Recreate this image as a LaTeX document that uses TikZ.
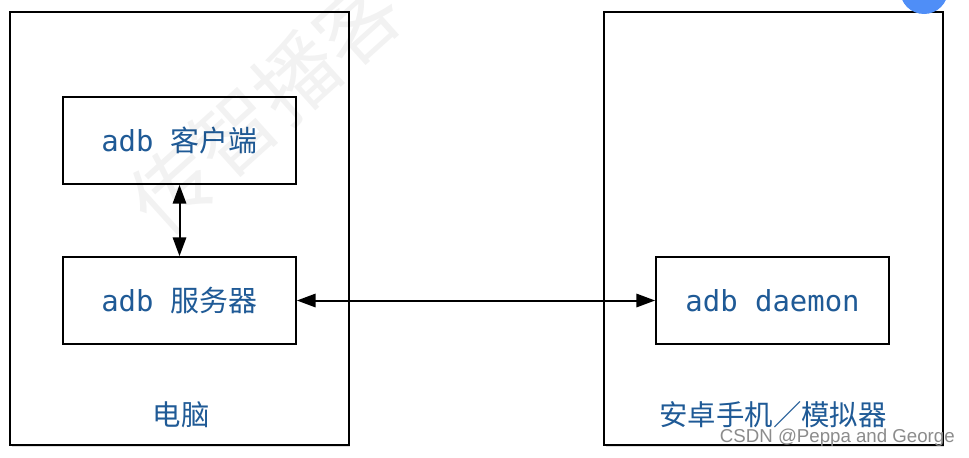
\documentclass[tikz,border=0pt]{standalone}
\usepackage{fontspec}
\setmainfont{Noto Sans CJK SC}
\newfontfamily\mono{DejaVu Sans Mono}
\newfontfamily\wmfont{Liberation Sans}
\usetikzlibrary{shadows,arrows.meta}
\definecolor{txtblue}{HTML}{1F5A96}
\definecolor{fab}{HTML}{4F8EF7}
\tikzset{
  outerbox/.style={draw=black, line width=1.4pt, fill=white, minimum width=254pt, minimum height=324.75pt, inner sep=0pt,
     drop shadow={opacity=0.25, shadow xshift=1.2pt, shadow yshift=-1.5pt}},
  innerbox/.style={draw=black, line width=1.3pt, fill=white, minimum width=174.75pt, minimum height=65.25pt, inner sep=0pt,
     font=\fontsize{21.7pt}{24pt}\selectfont, text=txtblue},
  sidelabel/.style={font=\fontsize{21.3pt}{24pt}\selectfont, text=txtblue, inner sep=0pt},
  link/.style={line width=1.5pt, {Triangle[length=14pt,width=10pt]}-{Triangle[length=14pt,width=10pt]}}
}
\begin{document}
\begin{tikzpicture}[x=0.75pt, y=-0.75pt]
\useasboundingbox (0,0) rectangle (969,457);
\fill[white] (0,0) rectangle (969,457);
% outer boxes
\node[outerbox] (pc) at (179.5,228.5) {};
\node[outerbox] (phone) at (773.5,228.5) {};
% inner boxes
\node[innerbox] (client) at (179.5,140.5) {{\mono adb\ }客户端};
\node[innerbox] (server) at (179.5,300.5) {{\mono adb\ }服务器};
\node[innerbox] (daemon) at (772.5,300.5) {\mono adb daemon};
% labels
\node[sidelabel] (pclabel) at (181,415) {电脑};
\node[sidelabel] (phonelabel) at (773,415) {安卓手机／模拟器};
% connectors
\draw[link] (client.south) -- (server.north);
\draw[link] (server.east) -- (daemon.west);
% faint watermark on top
\node[rotate=42, text=black, opacity=0.05, font=\fontsize{62pt}{64pt}\selectfont, inner sep=0pt] (wmark) at (265,105) {传智播客};
% corner button
\begin{scope}
\clip (0,0) rectangle (969,457);
\fill[fab] (924,-10) circle (24);
\end{scope}
% CSDN watermark
\node[anchor=east, inner sep=0pt, text=black!45, font=\wmfont\fontsize{14pt}{16pt}\selectfont] (csdn) at (955,438) {CSDN @Peppa and George};
\end{tikzpicture}
\end{document}
